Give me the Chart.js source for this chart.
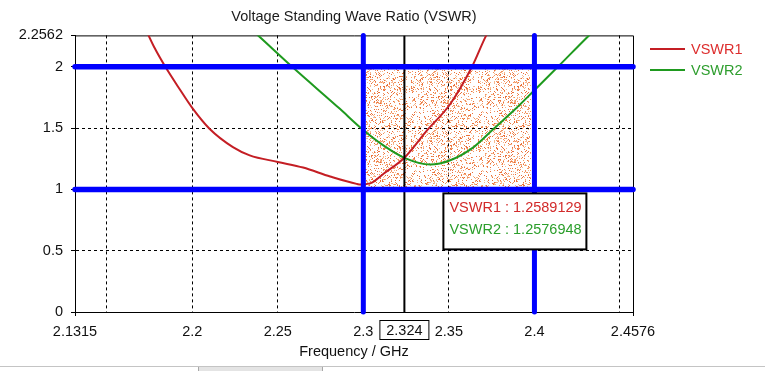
<!DOCTYPE html>
<html>
<head>
<meta charset="utf-8">
<title>Voltage Standing Wave Ratio (VSWR)</title>
<script src="https://cdn.jsdelivr.net/npm/chart.js@4.4.1/dist/chart.umd.min.js"></script>
<style>
  html, body { margin: 0; padding: 0; background: #fff; }
  #wrap { position: relative; width: 765px; height: 371px; overflow: hidden; }
  canvas { display: block; }
  .strip { position: absolute; left: 0; top: 366px; width: 765px; height: 5px; border-top: 1px solid #c4c4c4; }
  .tab { position: absolute; left: 198px; top: 367px; width: 123px; height: 4px; background: #e4e4e4; border-left: 1px solid #a8a8a8; border-right: 1px solid #a8a8a8; }
</style>
</head>
<body>
<div id="wrap">
  <canvas id="chart" width="765" height="371"></canvas>
  <div class="strip"></div>
  <div class="tab"></div>
</div>
<script>
// curve values
const vswr1Freq   = [2.172, 2.1779, 2.1843, 2.1926, 2.2, 2.2101, 2.2238, 2.2336, 2.25, 2.2648, 2.2806, 2.2961, 2.2985, 2.304, 2.312, 2.324, 2.3372, 2.3508, 2.3635, 2.3717, 2.375];
const vswr1Values = [2.33, 2.157, 2.0, 1.819, 1.665, 1.495, 1.345, 1.278, 1.224, 1.178, 1.105, 1.045, 1.040, 1.049, 1.13, 1.2589, 1.481, 1.697, 2.0, 2.252, 2.33];

const vswr2Freq   = [2.235, 2.2385, 2.2584, 2.2863, 2.2991, 2.3117, 2.324, 2.3391, 2.3508, 2.3645, 2.3762, 2.3879, 2.3997, 2.4143, 2.4319, 2.436];
const vswr2Values = [2.30, 2.256, 2.0, 1.657, 1.495, 1.359, 1.2577, 1.203, 1.238, 1.345, 1.495, 1.643, 1.805, 2.008, 2.256, 2.31];

const xMin = 2.1315, xMax = 2.4576;
const yMin = 0, yMax = 2.2562;
const xTickValues = [2.1315, 2.15, 2.2, 2.25, 2.3, 2.35, 2.4, 2.45, 2.4576];
const xTickLabels = ['2.1315', '', '2.2', '2.25', '2.3', '2.35', '2.4', '', '2.4576'];
const yTickValues = [0, 0.5, 1, 1.5, 2, 2.2562];
const yTickLabels = ['0', '0.5', '1', '1.5', '2', '2.2562'];

const limitFreqs = [2.3, 2.4];
const limitLevels = [1, 2];
const markerFreq = 2.324;
const markerValues = [1.2589129, 1.2576948];
const bandFreq = [2.3, 2.398];
const bandLevels = [1.02, 1.98];

const FONT = 'Liberation Sans, Arial, sans-serif';
const RED = '#c41e24';
const GREEN = '#1f9a1f';
const BLUE = '#0000ff';

function toPoints(xs, ys) {
  return xs.map((x, i) => ({x: x, y: ys[i]}));
}

// orange speckle texture for the band
function speckle(ctx) {
  const c = document.createElement('canvas');
  c.width = 67; c.height = 59;
  const g = c.getContext('2d');
  let s = 2463534242;
  for (let yy = 0; yy < c.height; yy++) {
    for (let xx = 0; xx < c.width; xx++) {
      s ^= s << 13; s >>>= 0;
      s ^= s >>> 17;
      s ^= s << 5; s >>>= 0;
      const r = s / 4294967296;
      if (r < 0.2) {
        g.fillStyle = r < 0.06 ? '#ea7038' : (r < 0.13 ? '#f29460' : '#f7b88e');
        g.fillRect(xx, yy, 1, 1);
      }
    }
  }
  return ctx.createPattern(c, 'repeat');
}

const canvas = document.getElementById('chart');
const ctx2d = canvas.getContext('2d');

const datasets = [];
limitLevels.forEach(lv => {
  datasets.push({
    label: 'limit', data: [{x: xMin, y: lv}, {x: xMax, y: lv}],
    borderColor: BLUE, borderWidth: 5.5, borderCapStyle: 'round',
    pointRadius: 0, clip: false, order: 0
  });
});
limitFreqs.forEach(f => {
  datasets.push({
    label: 'limit', data: [{x: f, y: yMin}, {x: f, y: yMax}],
    borderColor: BLUE, borderWidth: 5, borderCapStyle: 'round',
    pointRadius: 0, clip: false, order: 0
  });
});
datasets.push({
  label: 'marker', data: [{x: markerFreq, y: yMin}, {x: markerFreq, y: yMax}],
  borderColor: '#000', borderWidth: 2, pointRadius: 0, order: 1
});
datasets.push({
  label: 'VSWR1', data: toPoints(vswr1Freq, vswr1Values),
  borderColor: RED, borderWidth: 2, pointRadius: 0,
  cubicInterpolationMode: 'monotone', order: 2
});
datasets.push({
  label: 'VSWR2', data: toPoints(vswr2Freq, vswr2Values),
  borderColor: GREEN, borderWidth: 2, pointRadius: 0,
  cubicInterpolationMode: 'monotone', order: 2
});
datasets.push({
  label: 'band', data: [{x: bandFreq[0], y: bandLevels[1]}, {x: bandFreq[1], y: bandLevels[1]}],
  borderWidth: 0, borderColor: 'rgba(0,0,0,0)', pointRadius: 0,
  backgroundColor: speckle(ctx2d), fill: {value: bandLevels[0]}, order: 3
});

const overlay = {
  id: 'overlay',
  beforeDatasetsDraw(chart) {
    const {ctx, chartArea: a} = chart;
    ctx.save();
    ctx.strokeStyle = '#000';
    ctx.lineWidth = 1;
    ctx.beginPath();
    ctx.moveTo(a.left, a.top + 0.5);
    ctx.lineTo(a.right + 0.5, a.top + 0.5);
    ctx.lineTo(a.right + 0.5, a.bottom);
    ctx.stroke();
    ctx.restore();
  },
  afterDraw(chart) {
    const {ctx, scales: {x, y}} = chart;
    const mx = x.getPixelForValue(markerFreq);
    ctx.save();
    ctx.font = '14.5px ' + FONT;
    ctx.textBaseline = 'middle';

    // marker readout box
    const bx = mx + 39, by = y.getPixelForValue(1) + 4;
    ctx.fillStyle = '#fff';
    ctx.fillRect(bx, by, 143, 56);
    ctx.strokeStyle = '#000';
    ctx.lineWidth = 2;
    ctx.strokeRect(bx, by, 143, 56);
    const names = ['VSWR1', 'VSWR2'];
    const cols = ['#d22a2a', '#2b9e2b'];
    names.forEach((n, i) => {
      ctx.fillStyle = cols[i];
      ctx.textAlign = 'left';
      ctx.fillText(n + ' : ' + markerValues[i].toFixed(7), bx + 6, by + 15 + i * 22);
    });

    // marker frequency label on the x axis
    ctx.fillStyle = '#fff';
    ctx.fillRect(mx - 25, 320, 50, 19);
    ctx.lineWidth = 1;
    ctx.strokeRect(mx - 24.5, 320.5, 49, 19);
    ctx.fillStyle = '#111';
    ctx.textAlign = 'center';
    ctx.fillText(String(markerFreq), mx, 330.5);

    // legend
    const leg = [['VSWR1', RED, '#dd2e2e'], ['VSWR2', GREEN, '#2e9e2e']];
    leg.forEach((l, i) => {
      const ly = 49 + i * 21;
      ctx.strokeStyle = l[1];
      ctx.lineWidth = 2;
      ctx.beginPath();
      ctx.moveTo(650, ly);
      ctx.lineTo(685, ly);
      ctx.stroke();
      ctx.fillStyle = l[2];
      ctx.textAlign = 'left';
      ctx.fillText(l[0], 691, ly + 1);
    });
    ctx.restore();
  }
};

new Chart(canvas, {
  type: 'line',
  data: {datasets: datasets},
  options: {
    responsive: false,
    animation: false,
    events: [],
    layout: {padding: {top: 4, right: 132, bottom: 0, left: 0}},
    plugins: {
      legend: {display: false},
      tooltip: {enabled: false},
      title: {
        display: true,
        text: 'Voltage Standing Wave Ratio (VSWR)',
        fullSize: false,
        color: '#1a1a1a',
        font: {family: FONT, size: 14.5, weight: 'normal'},
        padding: {top: 4, bottom: 10}
      }
    },
    scales: {
      x: {
        type: 'linear', min: xMin, max: xMax,
        afterBuildTicks: s => { s.ticks = xTickValues.map(v => ({value: v})); },
        afterFit: s => { s.height = 59; },
        ticks: {
          autoSkip: false, maxRotation: 0, padding: 7, color: '#111',
          font: {family: FONT, size: 14.5},
          callback: (v, i) => xTickLabels[i]
        },
        grid: {
          color: c => (c.tick && (c.tick.value === xMin || c.tick.value === xMax)) ? 'rgba(0,0,0,0)' : '#000',
          tickColor: c => (c.tick && (c.tick.value === xMin || c.tick.value === xMax)) ? '#000' : 'rgba(0,0,0,0)',
          tickLength: 4, lineWidth: 1
        },
        border: {color: '#000', width: 1, dash: [3, 3]},
        title: {
          display: true, text: 'Frequency / GHz', color: '#111',
          font: {family: FONT, size: 14.5}, padding: {top: 0, bottom: 10}
        }
      },
      y: {
        min: yMin, max: yMax,
        afterBuildTicks: s => { s.ticks = yTickValues.map(v => ({value: v})); },
        afterFit: s => { s.width = 75; },
        ticks: {
          autoSkip: false, padding: 8, color: '#111',
          font: {family: FONT, size: 14.5},
          callback: (v, i) => yTickLabels[i]
        },
        grid: {
          color: c => (c.tick && (c.tick.value === yMin || c.tick.value === yMax)) ? 'rgba(0,0,0,0)' : '#000',
          tickColor: '#000', tickLength: 4, lineWidth: 1
        },
        border: {color: '#000', width: 1, dash: [3, 3]}
      }
    }
  },
  plugins: [overlay]
});
</script>
</body>
</html>
